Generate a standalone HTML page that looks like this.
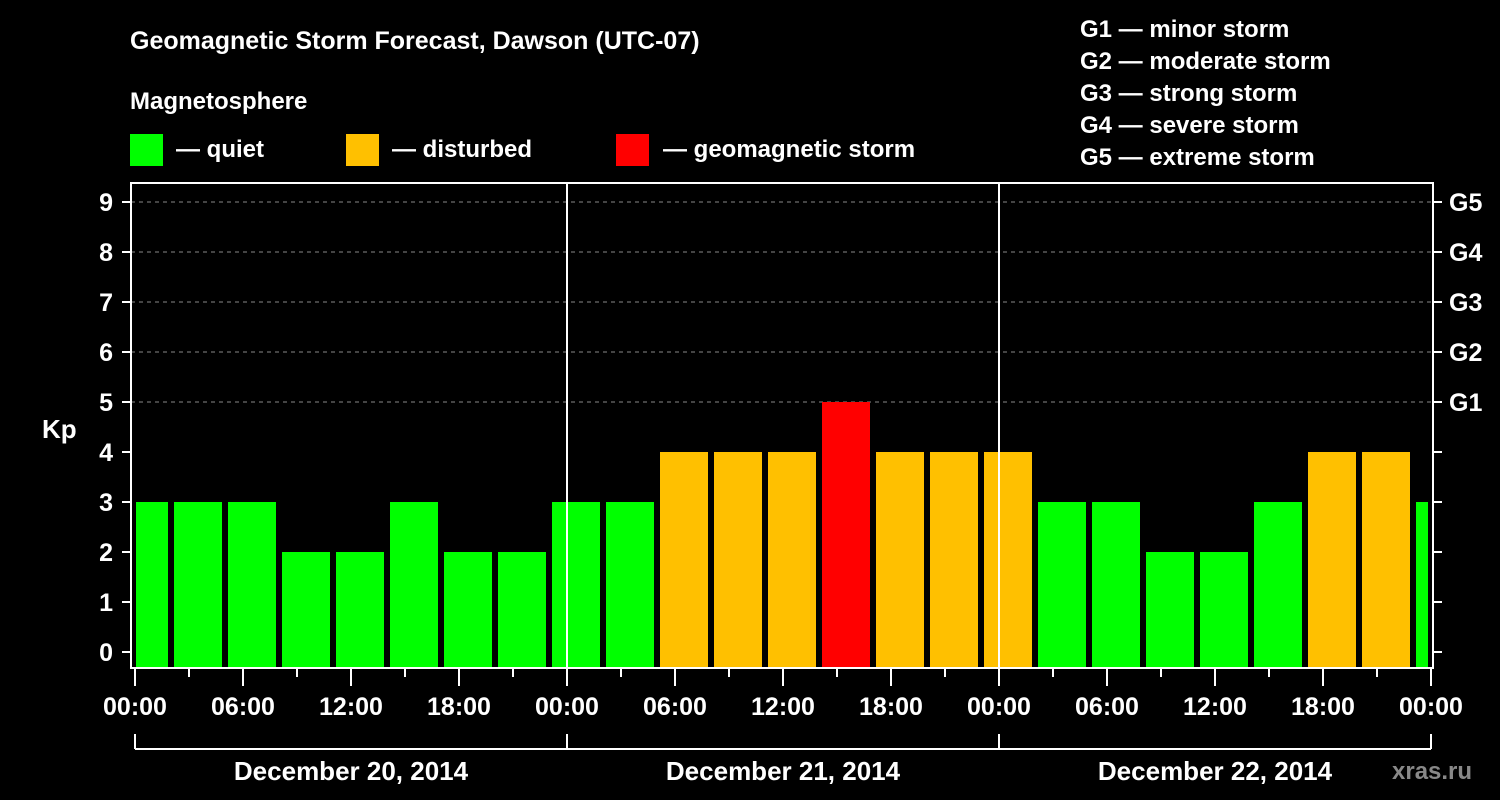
<!DOCTYPE html>
<html><head><meta charset="utf-8"><style>
html,body{margin:0;padding:0;background:#000;}
svg{display:block;font-family:"Liberation Sans",Arial,sans-serif;font-weight:bold;}
</style></head><body>
<svg id="chart" width="1500" height="800">
<text x="130" y="49" fill="#fff" font-size="25">Geomagnetic Storm Forecast, Dawson (UTC-07)</text>
<text x="130" y="109" fill="#fff" font-size="24">Magnetosphere</text>
<g><rect x="130" y="134" width="33" height="32" fill="#00ff00"/><text x="176" y="157" fill="#fff" font-size="24">— quiet</text></g>
<g><rect x="346" y="134" width="33" height="32" fill="#ffc000"/><text x="392" y="157" fill="#fff" font-size="24">— disturbed</text></g>
<g><rect x="616" y="134" width="33" height="32" fill="#ff0000"/><text x="663" y="157" fill="#fff" font-size="24">— geomagnetic storm</text></g>
<g fill="#fff" font-size="24">
<text x="1080" y="37">G1 — minor storm</text>
<text x="1080" y="69">G2 — moderate storm</text>
<text x="1080" y="101">G3 — strong storm</text>
<text x="1080" y="133">G4 — severe storm</text>
<text x="1080" y="165">G5 — extreme storm</text>
</g>
<text x="42" y="438" fill="#fff" font-size="26">Kp</text>
<text x="1392" y="779" fill="#888" font-size="24">xras.ru</text>
<g id="grid"></g>
<defs><clipPath id="pc"><rect x="136" y="183" width="1292" height="485"/></clipPath></defs>
<g id="bars" clip-path="url(#pc)"></g>
<g id="axes"></g>
</svg>
<script>
const kpValues=[3,3,3,2,2,3,2,2,3,3,4,4,4,5,4,4,4,3,3,2,2,3,4,4,3];
const yTicks=[0,1,2,3,4,5,6,7,8,9];
const gLabels=["G1","G2","G3","G4","G5"];
const xTickLabels=["00:00","06:00","12:00","18:00","00:00","06:00","12:00","18:00","00:00","06:00","12:00","18:00","00:00"];
const dayLabels=["December 20, 2014","December 21, 2014","December 22, 2014"];
const NS="http://www.w3.org/2000/svg";
const L=131,R=1433,T=183,B=668,X0=135,HR=18;
const y=v=>652-v*50;
const x=h=>X0+h*HR;
function mk(tag,attrs,parent,txt){const e=document.createElementNS(NS,tag);for(const k in attrs)e.setAttribute(k,attrs[k]);if(txt!==undefined)e.textContent=txt;parent.appendChild(e);return e;}
const grid=document.getElementById('grid'),bars=document.getElementById('bars'),axes=document.getElementById('axes');
yTicks.forEach(v=>{if(v>=5){const l=mk('line',{x1:L,x2:R,y1:y(v),y2:y(v),stroke:'#888','stroke-dasharray':'4,4','stroke-width':1},grid);

}});
kpValues.forEach((v,i)=>{const c=v>=5?'#ff0000':(v>=4?'#ffc000':'#00ff00');
const r=mk('rect',{x:x(i*3)-15,y:y(v),width:48,height:B-y(v),fill:c},bars);

});
const f=mk('rect',{x:L,y:T,width:R-L,height:B-T,fill:'none',stroke:'#fff','stroke-width':2},axes);


[1,2].forEach(d=>{const l=mk('line',{x1:x(d*24),x2:x(d*24),y1:T,y2:B,stroke:'#fff','stroke-width':2},axes);

});
yTicks.forEach(v=>{mk('line',{x1:L-9,x2:L,y1:y(v),y2:y(v),stroke:'#fff','stroke-width':2},axes);
mk('line',{x1:R,x2:R+9,y1:y(v),y2:y(v),stroke:'#fff','stroke-width':2},axes);
const t=mk('text',{x:113,y:y(v)+9,fill:'#fff','font-size':25,'text-anchor':'end'},axes,String(v));

});
gLabels.forEach((g,i)=>{const t=mk('text',{x:1449,y:y(5+i)+9,fill:'#fff','font-size':25},axes,g);

});
for(let h=0;h<=72;h+=3){const maj=h%6===0;mk('line',{x1:x(h),x2:x(h),y1:B,y2:B+(maj?18:9),stroke:'#fff','stroke-width':2},axes);}
xTickLabels.forEach((s,i)=>{const t=mk('text',{x:x(i*6),y:715,fill:'#fff','font-size':25,'text-anchor':'middle'},axes,s);

});
mk('line',{x1:x(0),x2:x(72),y1:749,y2:749,stroke:'#fff','stroke-width':2},axes);
for(let d=0;d<=3;d++)mk('line',{x1:x(d*24),x2:x(d*24),y1:734,y2:749,stroke:'#fff','stroke-width':2},axes);
dayLabels.forEach((s,i)=>{const t=mk('text',{x:x(i*24+12),y:780,fill:'#fff','font-size':26,'text-anchor':'middle'},axes,s);

});
</script>
</body></html>
